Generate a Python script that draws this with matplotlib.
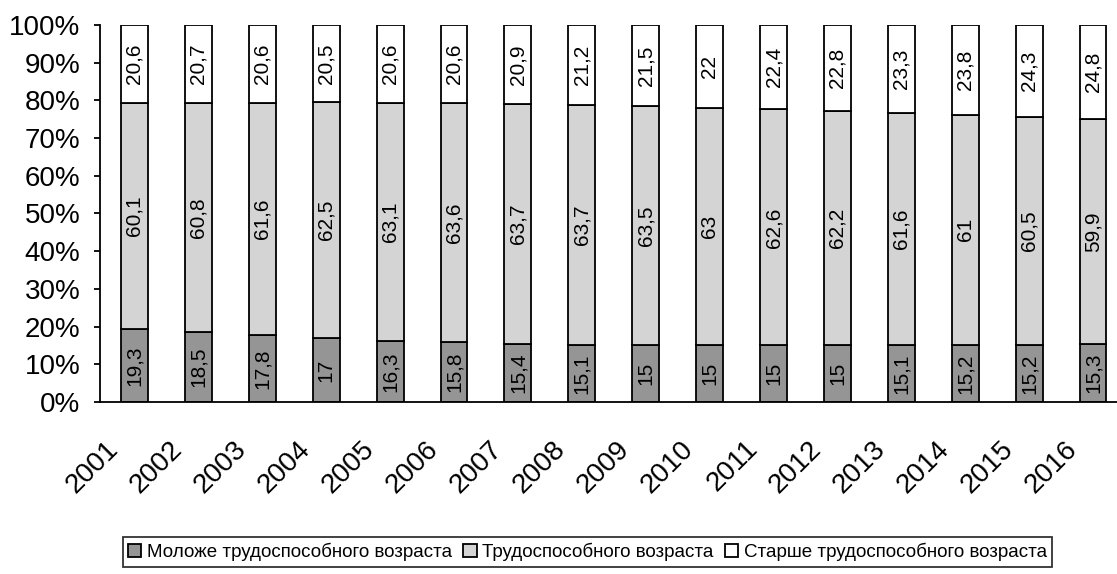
import numpy as np
import matplotlib.pyplot as plt
from matplotlib.transforms import ScaledTranslation

# --- DATA ---
years = [str(y) for y in range(2001, 2017)]
younger = [19.3, 18.5, 17.8, 17, 16.3, 15.8, 15.4, 15.1, 15, 15, 15, 15, 15.1, 15.2, 15.2, 15.3]
working = [60.1, 60.8, 61.6, 62.5, 63.1, 63.6, 63.7, 63.7, 63.5, 63, 62.6, 62.2, 61.6, 61, 60.5, 59.9]
older = [20.6, 20.7, 20.6, 20.5, 20.6, 20.6, 20.9, 21.2, 21.5, 22, 22.4, 22.8, 23.3, 23.8, 24.3, 24.8]
labels = ["Моложе трудоспособного возраста", "Трудоспособного возраста", "Старше трудоспособного возраста"]

plt.rcParams['font.family'] = ['Liberation Sans', 'DejaVu Sans']


def fmt(v):
    # comma decimal separator, drop trailing ,0
    return f"{v:g}".replace(".", ",")


fig = plt.figure(figsize=(11.17, 5.74), dpi=100)
ax = fig.add_axes([0.0895, 0.2997, 0.9105, 0.6567])

x = np.arange(len(years))
w = 0.42
young = np.array(younger)
work = np.array(working)
old = np.array(older)

series = [(young, 0, "#959595"), (work, young, "#d4d4d4"), (old, young + work, "white")]
for (vals, bottom, color), name in zip(series, labels):
    bars = ax.bar(x, vals, w, bottom=bottom, color=color, edgecolor="black",
                  linewidth=1.3, label=name)
    ax.bar_label(bars, labels=[fmt(v) for v in vals], label_type="center",
                 rotation=90, fontsize=15)

ax.set_xlim(-0.54, 15.375)
ax.set_ylim(0, 100)
ax.set_yticks(range(0, 101, 10))
ax.set_yticklabels([f"{t}%" for t in range(0, 101, 10)], fontsize=20)
ax.set_xticks(x)
ax.set_xticklabels(years, rotation=45, fontsize=20, ha="right", va="center",
                   rotation_mode="anchor")
ax.tick_params(axis="x", length=0, pad=31)
ax.tick_params(axis="y", direction="out", length=4, width=1.3, pad=10)
shift = ScaledTranslation(-0.2, 0, fig.dpi_scale_trans)
for lbl in ax.get_xticklabels():
    lbl.set_transform(lbl.get_transform() + shift)

for side in ["top", "right"]:
    ax.spines[side].set_visible(False)
ax.spines["left"].set_linewidth(1.3)
ax.spines["bottom"].set_linewidth(1.3)

leg = fig.legend(loc="center", bbox_to_anchor=(0.526, 0.038), ncol=3, fontsize=13.5,
                 frameon=True, fancybox=False, edgecolor="black", handlelength=0.7,
                 handleheight=0.7, handletextpad=0.3, columnspacing=0.6, borderpad=0.3)
leg.get_frame().set_linewidth(1.3)

fig.savefig("out.png", dpi=100)
